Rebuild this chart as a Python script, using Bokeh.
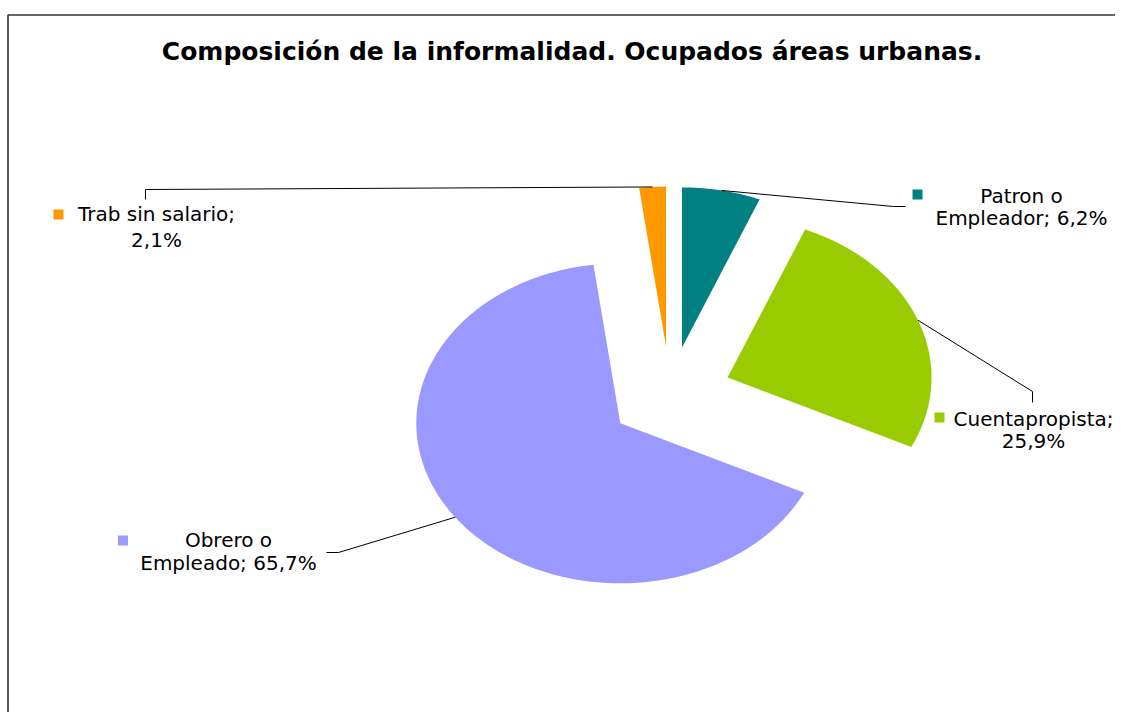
import numpy as np
from bokeh.plotting import figure
from bokeh.models import Range1d, ColumnDataSource
from bokeh.core.properties import value
from bokeh.embed import file_html
from bokeh.resources import INLINE

# ---------------- data ----------------
categories = ["Patron o Empleador", "Cuentapropista", "Obrero o Empleado", "Trab sin salario"]
values = [6.2, 25.9, 65.7, 2.1]
colors = ["#008080", "#99CC00", "#9999FF", "#FF9900"]
label_line1 = ["Patron o", "Cuentapropista;", "Obrero o", "Trab sin salario;"]
label_prefix2 = ["Empleador; ", "", "Empleado; ", ""]
title_text = "Composición de la informalidad. Ocupados áreas urbanas."

# ---------------- layout (screenshot pixel coordinates) ----------------
W, H = 1115, 712
CX, CY = 669.6, 394.4          # pie centre
RX, RY = 204.0, 160.0          # ellipse radii
EX, EY = 61.5, 48.4            # explode distance (x / y)
lab_x = [1021, 1033, 228, 156]
lab_y1 = [195, 418, 539, 213]
lab_y2 = [217, 440, 562, 239]
mark_x = [917, 939, 122.5, 58]
mark_y = [194, 417, 540, 214]
elbow = [[(893, 206), (905, 206)],
         [(1032, 391), (1032, 402)],
         [(338, 552), (326, 552)],
         [(145, 189), (145, 199)]]

FONT = "DejaVu Sans"

p = figure(width=W, height=H, x_range=Range1d(0, W), y_range=Range1d(H, 0),
           output_backend="svg", toolbar_location=None, min_border=0,
           x_axis_location=None, y_axis_location=None)
p.grid.visible = False
p.outline_line_color = None
p.background_fill_color = "white"
p.border_fill_color = "white"

# frame
p.line([7.5, 7.5, W], [H, 14.5, 14.5], line_color="#333333", line_width=1.6)

# pie slices (clockwise from 12 o'clock)
total = sum(values)
fracs = np.array(values) / total
starts = np.concatenate([[0], np.cumsum(fracs)[:-1]]) * 2 * np.pi
ends = np.cumsum(fracs) * 2 * np.pi
xs, ys, lead_x, lead_y = [], [], [], []
for i in range(len(values)):
    mid = (starts[i] + ends[i]) / 2
    ox, oy = CX + EX * np.sin(mid), CY - EY * np.cos(mid)
    a = np.linspace(starts[i], ends[i], 200)
    xs.append(list(np.concatenate([[ox], ox + RX * np.sin(a)])))
    ys.append(list(np.concatenate([[oy], oy - RY * np.cos(a)])))
    sx, sy = ox + RX * np.sin(mid), oy - RY * np.cos(mid)
    lead_x.append([sx] + [e[0] for e in elbow[i]])
    lead_y.append([sy] + [e[1] for e in elbow[i]])

p.patches(xs, ys, fill_color=colors, line_color=None)
p.multi_line(lead_x, lead_y, line_color="black", line_width=1)

# legend-key squares
p.scatter(mark_x, mark_y, marker="square", size=10, fill_color=colors, line_color=None)

# labels
pct = [f"{v:.1f}".replace(".", ",") + "%" for v in values]
line2 = [label_prefix2[i] + pct[i] for i in range(len(values))]
src = ColumnDataSource(dict(x=lab_x + lab_x, y=lab_y1 + lab_y2, t=label_line1 + line2))
p.text(x="x", y="y", text="t", source=src, text_align="center", text_baseline="middle",
       text_font=value(FONT), text_font_size="20px", text_color="black")

# title
p.text(x=[571.5], y=[51], text=[title_text], text_align="center", text_baseline="middle",
       text_font=value(FONT), text_font_style="bold", text_font_size="25px", text_color="black")

open("out.html", "w").write(file_html(p, INLINE))
